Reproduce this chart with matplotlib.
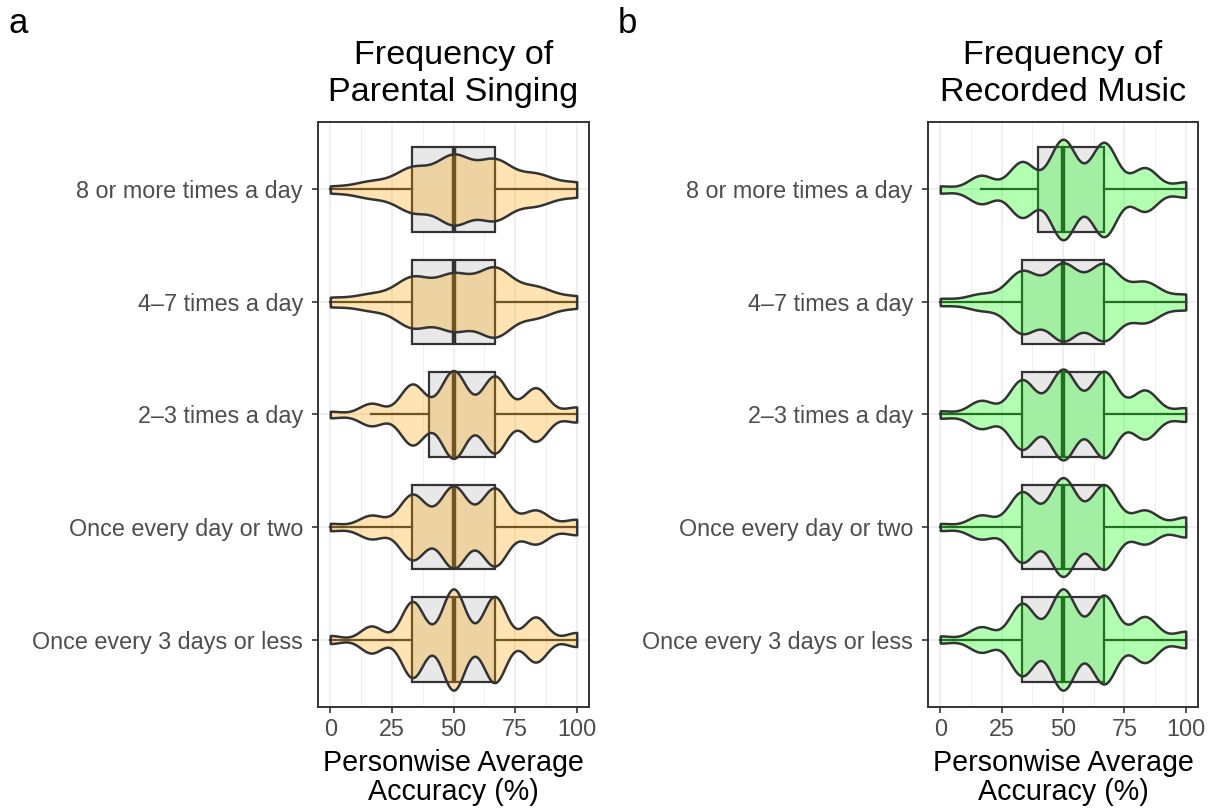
import numpy as np
import matplotlib
matplotlib.use("Agg")
import matplotlib.pyplot as plt
from matplotlib import cbook
from matplotlib.colors import to_rgba

plt.rcParams['font.family'] = ['Liberation Sans', 'DejaVu Sans']

# ---------------- data ----------------
CATEGORIES = ["8 or more times a day", "4\u20137 times a day", "2\u20133 times a day",
              "Once every day or two", "Once every 3 days or less"]   # top -> bottom
VALUES = [0, 100 / 6, 200 / 6, 50, 400 / 6, 500 / 6, 100]          # possible personwise accuracies

# counts of people at each accuracy value (per category, top -> bottom)
SING_COUNTS = [
    [6, 15, 40, 62, 54, 28, 13],
    [8, 14, 44, 48, 60, 26, 10],
    [6, 21, 57, 82, 72, 50, 14],
    [7, 23, 64, 80, 76, 33, 15],
    [8, 27, 76, 101, 86, 45, 14],
]
SING_BW = [7.0, 7.0, 5.0, 5.3, 4.5]
SING_Q1 = [33.33, 33.33, 40.0, 33.33, 33.33]
SING_MED = [50, 50, 50, 50, 50]
SING_Q3 = [66.67, 66.67, 66.67, 66.67, 66.67]
SING_WLO = [0, 0, 16.67, 0, 0]
SING_WHI = [100, 100, 100, 100, 100]

REC_COUNTS = [
    [7, 28, 55, 99, 93, 43, 15],
    [7, 16, 62, 76, 76, 40, 15],
    [7, 27, 67, 87, 83, 47, 13],
    [7, 24, 71, 99, 85, 34, 20],
    [7, 25, 71, 99, 87, 45, 16],
]
REC_BW = [5.2, 6.2, 5.2, 5.3, 5.0]
REC_Q1 = [40.0, 33.33, 33.33, 33.33, 33.33]
REC_MED = [50, 50, 50, 50, 50]
REC_Q3 = [66.67, 66.67, 66.67, 66.67, 66.67]
REC_WLO = [16.67, 0, 0, 0, 0]
REC_WHI = [100, 100, 100, 100, 100]

X_TICKS = [0, 25, 50, 75, 100]
X_LABEL = "Personwise Average\nAccuracy (%)"
TITLES = ["Frequency of\nParental Singing", "Frequency of\nRecorded Music"]
PANEL_LETTERS = ["a", "b"]

# ---------------- style ----------------
DARK = '#333333'
GRID = '#EBEBEB'
TICKTXT = '#4D4D4D'
BOXFILL = '#E8E8E8'
W = 1217.0
H = 811.0


def make_kde(bw):
    def method(x, coords):
        x = np.asarray(x, float)
        c = np.asarray(coords, float)
        d = np.exp(-(c[:, None] - x[None, :]) ** 2 / (2 * bw ** 2)).sum(axis=1)
        return d / (len(x) * bw * np.sqrt(2 * np.pi))
    return method


def draw_panel(ax, counts, bws, q1, med, q3, wlo, whi, color, title):
    n = len(CATEGORIES)
    positions = list(range(n, 0, -1))
    # boxplots (beneath)
    bstats = []
    for i in range(n):
        bstats.append(dict(q1=q1[i], med=med[i], q3=q3[i], whislo=wlo[i], whishi=whi[i],
                           fliers=[], label=CATEGORIES[i]))
    ax.bxp(bstats, positions=positions, widths=0.75, orientation='horizontal',
           patch_artist=True, showfliers=False, showcaps=False,
           boxprops=dict(facecolor=BOXFILL, edgecolor=DARK, linewidth=1.6),
           medianprops=dict(color=DARK, linewidth=3.2, solid_capstyle='butt'),
           whiskerprops=dict(color=DARK, linewidth=1.6),
           manage_ticks=False, zorder=2)
    # violins (on top, translucent)
    vstats = []
    for i in range(n):
        data = np.repeat(VALUES, counts[i])
        vstats.append(cbook.violin_stats(data, make_kde(bws[i]), points=512)[0])
    vmax = [np.max(s['vals']) for s in vstats]
    gmax = max(vmax)
    widths = [0.9 * v / gmax for v in vmax]
    parts = ax.violin(vstats, positions=positions, orientation='horizontal', widths=widths,
                      showmeans=False, showextrema=False, showmedians=False)
    for b in parts['bodies']:
        b.set_alpha(None)
        b.set_facecolor(to_rgba(color, 0.3))
        b.set_edgecolor(DARK)
        b.set_linewidth(1.8)
        b.set_joinstyle('round')
        b.set_zorder(3)

    ax.set_xlim(-5, 105)
    ax.set_ylim(0.4, n + 0.6)
    ax.set_yticks(positions)
    ax.set_yticklabels(CATEGORIES)
    ax.set_xticks(X_TICKS)
    ax.set_xticks([12.5, 37.5, 62.5, 87.5], minor=True)
    ax.set_axisbelow(True)
    ax.grid(which='major', color=GRID, linewidth=1.1)
    ax.grid(which='minor', axis='x', color=GRID, linewidth=0.55)
    ax.tick_params(which='major', length=4.3, width=1.2, color=DARK, labelsize=16.8,
                   labelcolor=TICKTXT)
    ax.tick_params(axis='y', which='major', pad=6.5)
    ax.tick_params(axis='x', which='major', pad=3.5)
    ax.tick_params(which='minor', length=0)
    for s in ax.spines.values():
        s.set_color(DARK)
        s.set_linewidth(1.4)
        s.set_zorder(5)
    ax.text(0.5, 1.024, title, transform=ax.transAxes, ha='center', va='bottom',
            fontsize=24.6, linespacing=1.25, color='black')
    ax.text(0.5, -0.072, X_LABEL, transform=ax.transAxes, ha='center', va='top',
            fontsize=20.6, linespacing=1.05, color='black')


fig = plt.figure(figsize=(W / 100, H / 100), dpi=100)
axa = fig.add_axes([318 / W, 1 - 707 / H, 271 / W, 585 / H])
axb = fig.add_axes([928 / W, 1 - 707 / H, 270 / W, 585 / H])

draw_panel(axa, SING_COUNTS, SING_BW, SING_Q1, SING_MED, SING_Q3, SING_WLO, SING_WHI,
           'orange', TITLES[0])
draw_panel(axb, REC_COUNTS, REC_BW, REC_Q1, REC_MED, REC_Q3, REC_WLO, REC_WHI,
           '#00FF00', TITLES[1])

fig.text(9 / W, 1 - 33 / H, PANEL_LETTERS[0], fontsize=25, va='baseline', ha='left')
fig.text(618 / W, 1 - 33 / H, PANEL_LETTERS[1], fontsize=25, va='baseline', ha='left')

fig.savefig('out.png', dpi=100)
